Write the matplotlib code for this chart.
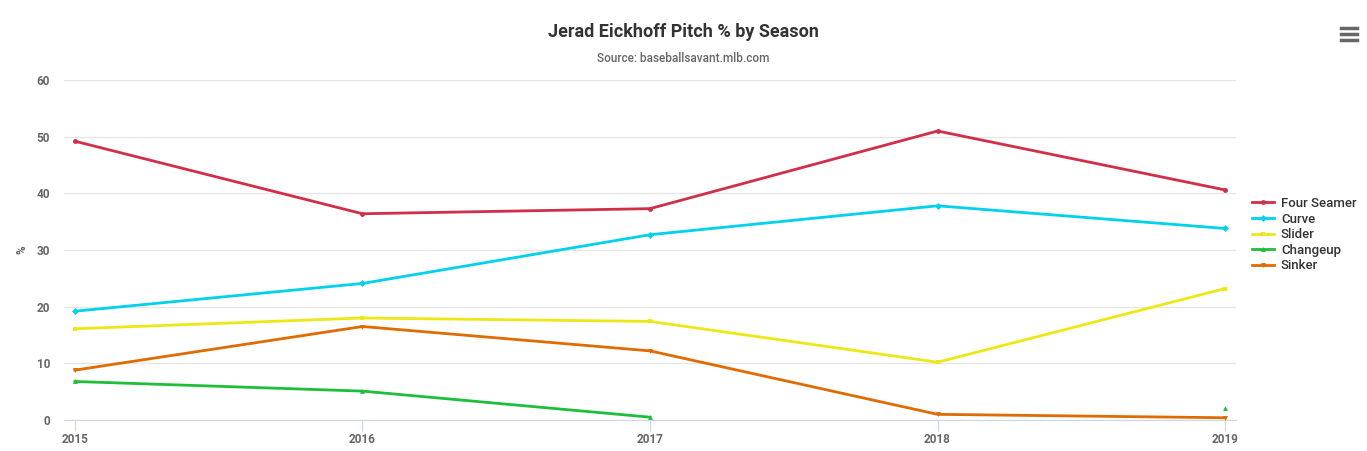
import matplotlib
matplotlib.use("Agg")
import matplotlib.pyplot as plt
import numpy as np

plt.rcParams["font.family"] = ["Roboto", "DejaVu Sans"]

seasons = [2015, 2016, 2017, 2018, 2019]
pitches = ["Four Seamer", "Curve", "Slider", "Changeup", "Sinker"]
four_seamer = [49.2, 36.4, 37.3, 51.0, 40.6]
curve = [19.2, 24.1, 32.7, 37.8, 33.8]
slider = [16.1, 18.0, 17.4, 10.2, 23.2]
changeup = [6.8, 5.1, 0.5, np.nan, 2.2]
sinker = [8.8, 16.5, 12.2, 1.0, 0.4]

colors = ["#d22d49", "#00d1ed", "#eee716", "#1dbe3a", "#e06b00"]
markers = ["o", "D", "s", "^", "v"]
series = [four_seamer, curve, slider, changeup, sinker]

fig = plt.figure(figsize=(13.67, 4.51), dpi=100)
ax = fig.add_axes([0.0468, 0.0687, 0.8574, 0.7539])

for name, vals, col, mk in zip(pitches, series, colors, markers):
    ax.plot(seasons, vals, color=col, lw=2, marker=mk, markersize=3.5,
            markeredgewidth=0, label=name, zorder=3)

ax.set_xlim(2014.962, 2019.038)
ax.set_ylim(0, 60)
ax.set_xticks(seasons)
ax.set_yticks(range(0, 61, 10))
ax.grid(axis="y", color="#e6e6e6", lw=1)
ax.set_axisbelow(True)
for s in ["top", "right", "left"]:
    ax.spines[s].set_visible(False)
ax.spines["bottom"].set_color("#ccd6eb")
ax.tick_params(axis="y", length=0, labelsize=8.5, labelcolor="#666666", pad=10)
ax.tick_params(axis="x", length=8, color="#ccd6eb", labelsize=8.5,
               labelcolor="#666666", pad=1)
for lab in ax.get_xticklabels() + ax.get_yticklabels():
    lab.set_fontweight("bold")
ax.set_ylabel("%", fontsize=8.5, color="#666666", fontweight="bold", labelpad=6)

fig.text(0.5, 0.93, "Jerad Eickhoff Pitch % by Season", ha="center",
         va="center", fontsize=13, color="#333333", fontweight="bold")
fig.text(0.5, 0.87, "Source: baseballsavant.mlb.com", ha="center",
         va="center", fontsize=8.5, color="#666666", fontweight="medium")

leg = ax.legend(loc="center left", bbox_to_anchor=(1.009, 0.545), frameon=False,
                fontsize=9.5, handlelength=1.7, handletextpad=0.5,
                labelspacing=0.2, borderaxespad=0)
for t in leg.get_texts():
    t.set_color("#333333")
    t.set_fontweight("medium")

# menu icon
for yy in [0.937, 0.924, 0.911]:
    fig.add_artist(plt.Line2D([0.981, 0.993], [yy, yy], color="#666666",
                              lw=2.5, transform=fig.transFigure))

fig.savefig("out.png", dpi=100)
